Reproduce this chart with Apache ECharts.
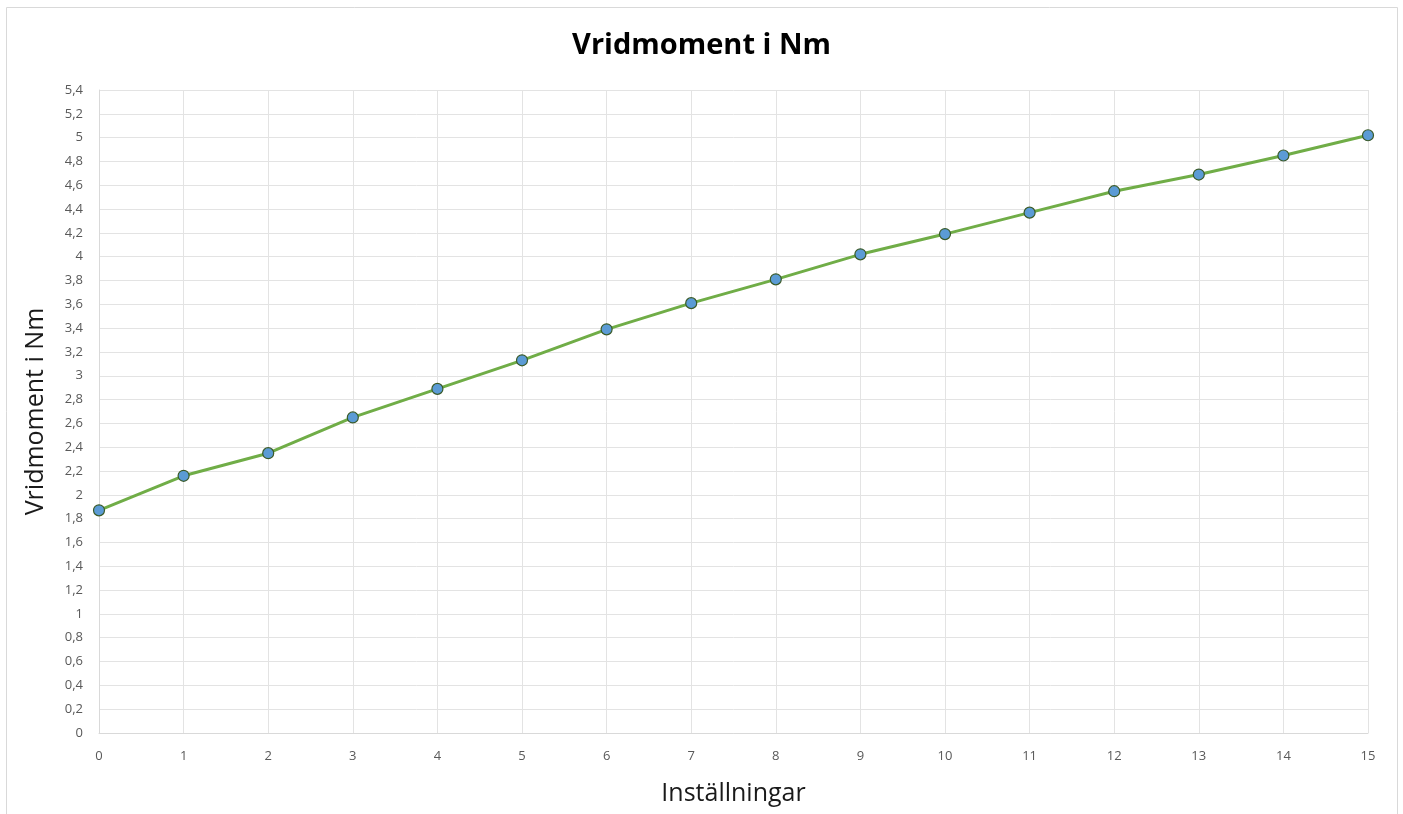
<!DOCTYPE html>
<html><head><meta charset="utf-8">
<script src="https://cdn.jsdelivr.net/npm/echarts@6/dist/echarts.min.js"></script>
<style>html,body{margin:0;padding:0;background:#fff}#c{width:1403px;height:814px}</style>
</head><body><div id="c"></div>
<script>
const settings = [0,1,2,3,4,5,6,7,8,9,10,11,12,13,14,15];
const torque = [1.87,2.16,2.35,2.65,2.89,3.13,3.39,3.61,3.81,4.02,4.19,4.37,4.55,4.69,4.85,5.02];
const titleText = 'Vridmoment i Nm';
const xName = 'Inställningar';
const yName = 'Vridmoment i Nm';
const chart = echarts.init(document.getElementById('c'));
const font = '"Open Sans", "Noto Sans", sans-serif';
chart.setOption({
  animation:false,
  title:{text:titleText,left:'center',top:26,textStyle:{fontFamily:font,fontSize:29,fontWeight:'bold',color:'#000'}},
  graphic:[{type:'rect',shape:{x:6.5,y:7.5,width:1391,height:830},style:{fill:'none',stroke:'#d9d9d9',lineWidth:1},silent:true}],
  grid:{left:99,right:35,top:90,bottom:81,containLabel:false},
  xAxis:{type:'value',min:0,max:15,interval:1,name:xName,nameLocation:'middle',nameGap:48,
    nameTextStyle:{fontFamily:font,fontSize:25,color:'#1a1a1a'},
    axisLine:{show:true,lineStyle:{color:'#d9d9d9',width:1}},axisTick:{show:false},
    axisLabel:{fontFamily:font,fontSize:13,color:'#595959',margin:17},
    splitLine:{show:true,lineStyle:{color:'#e3e3e3',width:1}}},
  yAxis:{type:'value',min:0,max:5.4,interval:0.2,name:yName,nameLocation:'middle',nameGap:51,
    nameTextStyle:{fontFamily:font,fontSize:25,color:'#1a1a1a'},
    axisLine:{show:true,lineStyle:{color:'#d9d9d9',width:1}},axisTick:{show:false},
    axisLabel:{fontFamily:font,fontSize:13,color:'#595959',margin:16,
      formatter:v=>String(Math.round(v*10)/10).replace('.',',')},
    splitLine:{show:true,lineStyle:{color:'#e3e3e3',width:1}}},
  series:[{type:'line',data:settings.map((s,i)=>[s,torque[i]]),
    symbol:'circle',symbolSize:11,
    lineStyle:{color:'#70ad47',width:3},
    itemStyle:{color:'#5b9bd5',borderColor:'#3a5a28',borderWidth:1.2}}]
});
</script></body></html>
